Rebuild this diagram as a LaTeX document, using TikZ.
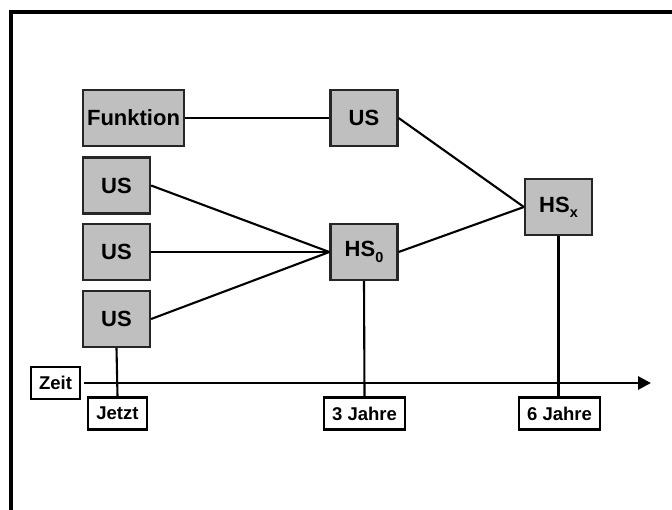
\documentclass[tikz,border=0pt]{standalone}
\usepackage{fontspec}
\setmainfont{Liberation Sans}
\usetikzlibrary{arrows.meta}
\newcommand{\lowidx}[1]{\raisebox{-0.45ex}{\fontsize{14.5}{14.5}\selectfont #1}}
\begin{document}
\begin{tikzpicture}[x=1pt,y=-1pt,
  grayblock/.style={draw=black!85, line width=2.2pt, fill=black!25,
    inner sep=0pt, minimum height=56pt, minimum width=67pt,
    font=\fontsize{22}{22}\selectfont\bfseries},
  timebox/.style={draw=black, line width=2.2pt, fill=white,
    inner sep=0pt, minimum height=32pt,
    font=\fontsize{18.5}{18.5}\selectfont\bfseries},
  link/.style={draw=black, line width=2.1pt}]
\useasboundingbox (0,0) rectangle (672,509);

% open frame on left and top
\draw[line width=4pt, line join=miter] (11,520) -- (11,12) -- (680,12);

% blocks
\node[grayblock, minimum width=101pt] (fkt) at (133.5,118) {Funktion};
\node[grayblock] (ust) at (364,118) {US};
\node[grayblock] (us1) at (116.5,185.5) {US};
\node[grayblock] (us2) at (116.5,252) {US};
\node[grayblock] (us3) at (116.5,319) {US};
\node[grayblock] (hs0) at (364,252) {HS\lowidx{0}};
\node[grayblock] (hsx) at (558.5,207) {HS\lowidx{x}};

% time axis labels
\node[timebox, minimum width=49pt] (zeit) at (55.5,383) {Zeit};
\node[timebox, minimum width=59pt] (jetzt) at (117.5,413.5) {Jetzt};
\node[timebox, minimum width=81pt] (j3) at (364.5,413.5) {3 Jahre};
\node[timebox, minimum width=81pt] (j6) at (559.5,413.5) {6 Jahre};
\coordinate (tend) at (651,383);

% connections
\draw[link] (fkt.east) -- (ust.west);
\draw[link] (us1.east) -- (hs0.west);
\draw[link] (us2.east) -- (hs0.west);
\draw[link] (us3.east) -- (hs0.west);
\draw[link] (ust.east) -- (hsx.west);
\draw[link] (hs0.east) -- (hsx.west);

% time axis
\draw[line width=2.9pt, -{Triangle[length=13pt,width=13pt]}]
  (zeit.east) ++(3,0) -- (tend);

% drop lines onto the axis
\draw[link] (us3.south) -- (jetzt.north);
\draw[link] (hs0.south) -- (j3.north);
\draw[link] (hsx.south) -- (hsx.south |- j6.north);
\end{tikzpicture}
\end{document}
